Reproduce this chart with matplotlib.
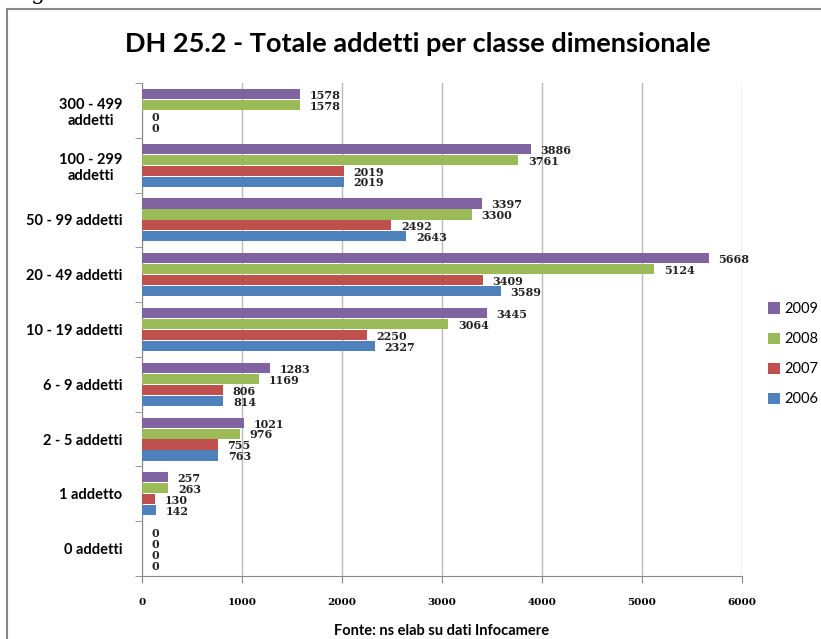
import matplotlib
matplotlib.use('Agg')
import matplotlib.pyplot as plt
import numpy as np

# categories from top to bottom
categories = ['300 - 499\naddetti', '100 - 299\naddetti', '50 - 99 addetti', '20 - 49 addetti',
              '10 - 19 addetti', '6 - 9 addetti', '2 - 5 addetti', '1 addetto', '0 addetti']
years = ['2009', '2008', '2007', '2006']
v2009 = [1578, 3886, 3397, 5668, 3445, 1283, 1021, 257, 0]
v2008 = [1578, 3761, 3300, 5124, 3064, 1169, 976, 263, 0]
v2007 = [0, 2019, 2492, 3409, 2250, 806, 755, 130, 0]
v2006 = [0, 2019, 2643, 3589, 2327, 814, 763, 142, 0]
xticks = [0, 1000, 2000, 3000, 4000, 5000, 6000]

series = [v2009, v2008, v2007, v2006]
colors = ['#8064A2', '#9BBB59', '#C0504D', '#4F81BD']

fig = plt.figure(figsize=(8.21, 6.39), dpi=100)
ax = fig.add_axes([142/821, 1 - 576/639, 600/821, (576 - 83)/639])

y = np.arange(len(categories))
step = 0.2
for k, (vals, col, yr) in enumerate(zip(series, colors, years)):
    pos = y + (k - 1.5) * step
    ax.barh(pos, vals, height=0.185, color=col, label=yr, zorder=3)
    for p, v in zip(pos, vals):
        ax.annotate(str(v), (v, p), xytext=(7, -1), textcoords='offset points',
                    va='center', ha='left', fontsize=8, family='DejaVu Serif',
                    fontweight='bold', color='#222222')

ax.set_xlim(0, 6000)
ax.set_ylim(len(categories) - 0.5, -0.5)
ax.set_xticks(xticks)
ax.set_xticklabels([str(t) for t in xticks], family='DejaVu Serif', fontweight='bold', fontsize=7.5)
ax.set_yticks(y)
ax.set_yticklabels(categories, family='Lato', fontweight='bold', fontsize=10.5,
                   ha='right', multialignment='center')
ax.set_yticks(np.arange(len(categories) + 1) - 0.5, minor=True)
ax.tick_params(axis='y', which='major', length=0, pad=14)
ax.tick_params(axis='y', which='minor', length=5, color='#888888', direction='out')
ax.tick_params(axis='x', length=5, color='#888888', direction='out', pad=11)
ax.xaxis.grid(True, color='#BBBBBB', linewidth=1, zorder=0)
for s in ['top', 'right']:
    ax.spines[s].set_visible(False)
for s in ['left', 'bottom']:
    ax.spines[s].set_color('#888888')

ax.set_xlabel('Fonte: ns elab su dati Infocamere', family='Lato', fontweight='bold',
              fontsize=10.5, labelpad=12)

fig.text(418/821, 1 - 44/639, 'DH 25.2 - Totale addetti per classe dimensionale',
         ha='center', va='center', family='Lato', fontweight='bold', fontsize=19.5)

ax.legend(loc='upper left', bbox_to_anchor=(755/821, 1 - 289/639), bbox_transform=fig.transFigure,
          frameon=False, prop={'family': 'Lato', 'size': 10.5}, handlelength=0.8,
          handleheight=0.8, labelspacing=1.1, handletextpad=0.3)

# chart frame border (left and top edges visible)
fig.add_artist(plt.Line2D([7/821, 7/821], [0, 1 - 9/639], transform=fig.transFigure,
                          color='#888888', linewidth=1.5))
fig.add_artist(plt.Line2D([7/821, 1], [1 - 9/639, 1 - 9/639], transform=fig.transFigure,
                          color='#888888', linewidth=1.5))
fig.text(38/821, 1 + 7/639, 'g', ha='center', va='center', fontsize=16, family='DejaVu Serif')

plt.savefig('out.png', dpi=100)
